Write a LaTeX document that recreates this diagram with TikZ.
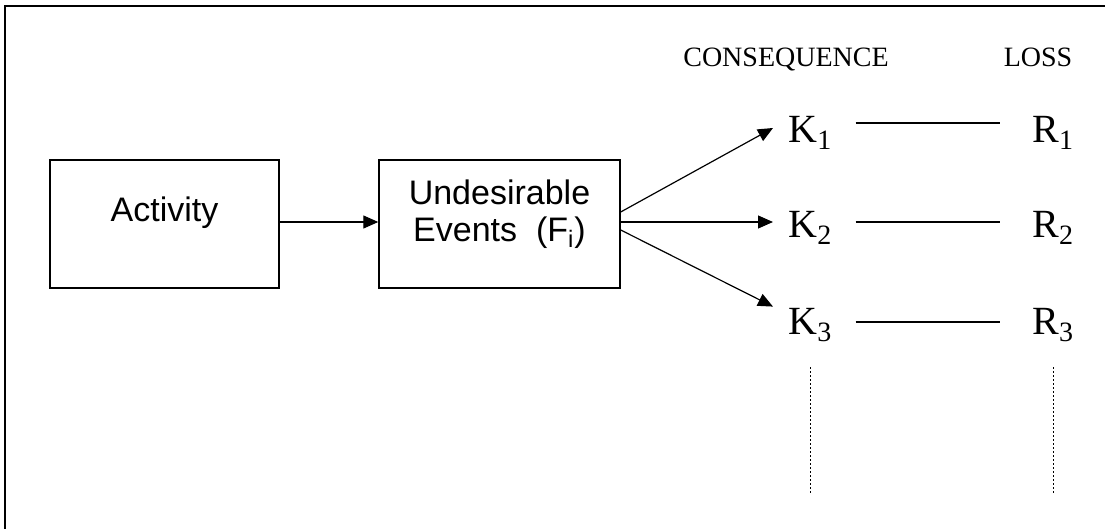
\documentclass[tikz,border=0pt]{standalone}
\usepackage{fontspec}
\setmainfont{Liberation Serif}
\newfontfamily\arialfont{Liberation Sans}
\usetikzlibrary{arrows.meta}
\tikzset{
  block/.style={draw, line width=0.7pt, minimum height=64pt, inner sep=0pt},
  blocktext/.style={font=\arialfont\fontsize{17}{18.5}\selectfont, align=center, inner sep=0pt},
  arr/.style={line width=0.6pt, -{Triangle[length=7.5pt,width=6.5pt]}},
  term/.style={font=\fontsize{20}{22}\selectfont, inner xsep=7.5pt, inner ysep=0pt,
    text height=14pt, text depth=0pt, anchor=base west},
  head/.style={font=\fontsize{14}{16}\selectfont, inner sep=0pt, anchor=base},
  link/.style={line width=0.6pt},
  dots/.style={line width=0.6pt, dash pattern=on 0.6pt off 1.4pt}
}
\begin{document}
\begin{tikzpicture}[x=0.5pt, y=-0.5pt]
  \useasboundingbox (0,0) rectangle (1105,529);
  \draw[line width=1pt] (1105,6) -- (5,6) -- (5,529);
  % boxes
  \node[block, minimum width=114.5pt] (act) at (164.5,224) {};
  \node[blocktext, anchor=base] (acttext) at (164.5,222) {Activity};
  \node[block, minimum width=120.5pt] (ev) at (499.5,224) {};
  \node[blocktext] (evtext) at (499.5,214.5) {Undesirable\\Events\ \ (F\textsubscript{i})};
  \draw[arr] ([yshift=1pt]act.east) -- ([yshift=1pt]ev.west);
  % consequences and losses
  \node[head] (conshead) at (786,67) {CONSEQUENCE};
  \node[head] (losshead) at (1038,67) {LOSS};
  \node[term] (k1) at (773,143) {K\textsubscript{1}};
  \node[term] (k2) at (773,238) {K\textsubscript{2}};
  \node[term] (k3) at (773,335) {K\textsubscript{3}};
  \node[term] (r1) at (1017,143) {R\textsubscript{1}};
  \node[term] (r2) at (1017,238) {R\textsubscript{2}};
  \node[term] (r3) at (1017,335) {R\textsubscript{3}};
  \draw[arr] ([yshift=6pt]ev.east) -- ([yshift=0.5pt]k1.west);
  \draw[arr] ([yshift=1pt]ev.east) -- ([yshift=1pt]k2.west);
  \draw[arr] ([yshift=-3pt]ev.east) -- (k3.north west);
  \draw[link] ([xshift=4pt,yshift=3pt]k1.east) -- ([xshift=-8.5pt,yshift=3pt]r1.west);
  \draw[link] ([xshift=4pt,yshift=1pt]k2.east) -- ([xshift=-8.5pt,yshift=1pt]r2.west);
  \draw[link] ([xshift=4pt,yshift=-0.5pt]k3.east) -- ([xshift=-8.5pt,yshift=-0.5pt]r3.west);
  \draw[dots] ([yshift=-16pt]k3.south) -- ++(0,126);
  \draw[dots] ([yshift=-16pt]r3.south) -- ++(0,126);
\end{tikzpicture}
\end{document}
